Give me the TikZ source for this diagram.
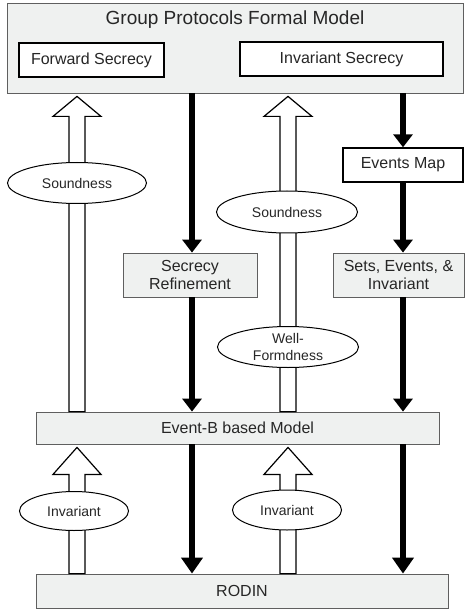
\documentclass[tikz,border=0pt]{standalone}
\usepackage{fontspec}
\setmainfont{Liberation Sans}
\usepackage{xcolor}
\usetikzlibrary{shapes.geometric, positioning, calc, arrows.meta}
\definecolor{boxgray}{RGB}{239,241,240}
\definecolor{linegray}{RGB}{95,95,95}
\newcommand{\hollowup}[4]{\draw[hollow] let \p1=(#1), \p2=(#2.north), \p3=(#3.south) in
	(\x1-8pt,\y2) -- (\x1-8pt,\y3-3pt-#4) -- (\x1-24pt,\y3-3pt-#4) -- (\x1,\y3-3pt)
	-- (\x1+24pt,\y3-3pt-#4) -- (\x1+8pt,\y3-3pt-#4) -- (\x1+8pt,\y2) -- cycle;}

\begin{document}
\begin{tikzpicture}[x=1pt, y=-1pt,
	every node/.style={text=black!85},
	graybox/.style={draw=linegray, line width=0.8pt, fill=boxgray, inner sep=0pt, align=center, font=\fontsize{16}{18}\selectfont},
	whitebox/.style={draw=black, line width=1.4pt, fill=white, inner sep=0pt, font=\fontsize{16}{18}\selectfont},
	oval/.style={ellipse, draw=black, line width=1pt, fill=white, inner sep=0pt, align=center, font=\fontsize{14}{17}\selectfont},
	flow/.style={line width=6pt, -{Triangle[width=19pt, length=13pt]}},
	bigflow/.style={line width=6.5pt, -{Triangle[width=21pt, length=16pt]}},
	hollow/.style={draw=black, line width=1.2pt, fill=white}]
				\useasboundingbox (0,0) rectangle (464,609);
				\coordinate (colA) at (77,0);
				\coordinate (colB) at (192,0);
				\coordinate (colC) at (288,0);
				\coordinate (colD) at (403,0);
				\node[graybox, minimum width=456pt, minimum height=90pt] (model) at (235,48) {};
				\node[font=\fontsize{19}{22}\selectfont] (modeltitle) at (235,20) {Group Protocols Formal Model};
				\node[whitebox, minimum width=145pt, minimum height=34pt] (forward) at (91.5,60) {Forward Secrecy};
				\node[whitebox, minimum width=203pt, minimum height=34pt] (invsecrecy) at (341.5,59) {Invariant Secrecy};
				\node[whitebox, minimum width=120pt, minimum height=34pt] (eventsmap) at (403,165) {Events Map};
				\node[graybox, minimum width=134pt, minimum height=44pt] (secref) at (190,275) {Secrecy\\Refinement};
				\node[graybox, minimum width=131pt, minimum height=44pt] (sets) at (398.5,275) {Sets, Events, \&\\Invariant};
				\node[graybox, minimum width=403pt, minimum height=32pt] (eventb) at (237.5,428) {Event-B based Model};
				\node[graybox, minimum width=412pt, minimum height=34pt] (rodin) at (242,591) {RODIN};
				\draw[flow] (model.south -| colB) -- (secref.north -| colB);
				\draw[flow] (secref.south -| colB) -- (eventb.north -| colB);
				\draw[flow] (model.south -| colD) -- (eventsmap.north);
				\draw[flow] (eventsmap.south) -- (sets.north -| colD);
				\draw[flow] (sets.south -| colD) -- (eventb.north -| colD);
				\draw[bigflow] (eventb.south -| colB) -- (rodin.north -| colB);
				\draw[bigflow] (eventb.south -| colD) -- (rodin.north -| colD);
				\hollowup{colA}{eventb}{model}{20pt}
				\hollowup{colC}{eventb}{model}{20pt}
				\hollowup{colA}{rodin}{eventb}{27pt}
				\hollowup{colC}{rodin}{eventb}{27pt}
				\node[oval, minimum width=139pt, minimum height=41pt] (sound1) at (77,183) {Soundness};
				\node[oval, minimum width=141pt, minimum height=42pt] (sound2) at (287,212) {Soundness};
				\node[oval, minimum width=141pt, minimum height=41pt] (wellformed) at (288,347) {Well-\\Formdness};
				\node[oval, minimum width=109pt, minimum height=39pt] (inv1) at (74,511) {Invariant};
				\node[oval, minimum width=109pt, minimum height=40pt] (inv2) at (287,510) {Invariant};
\end{tikzpicture}
\end{document}
